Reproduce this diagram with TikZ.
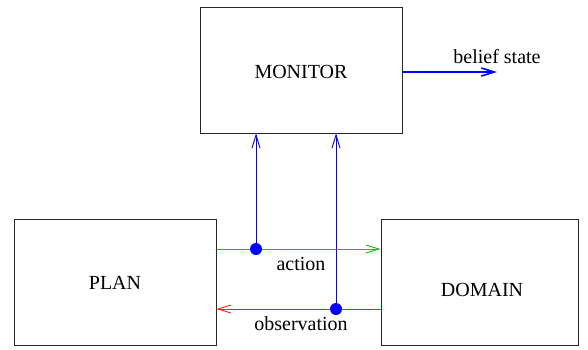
\documentclass[tikz,border=0pt]{standalone}
\usepackage{fontspec}
\setmainfont{Liberation Serif}
\usetikzlibrary{arrows.meta}
\definecolor{fgreen}{RGB}{20,190,20}
\definecolor{fred}{RGB}{255,30,30}
\definecolor{fblue}{RGB}{0,0,255}
\begin{document}
\begin{tikzpicture}[x=1pt,y=-1pt,
  font=\fontsize{20}{24}\selectfont,
  box/.style={draw=black!85,line width=1pt,minimum height=126pt,inner sep=0pt},
  dot/.style={circle,fill=fblue,minimum size=12pt,inner sep=0pt},
  tip/.style={-{Straight Barb[length=13pt,width=8pt]}},
  conn/.style={line width=0.9pt,tip}]
\useasboundingbox (0,0) rectangle (588,349);
\node[box,minimum width=202pt] (monitor) at (301,70) {};
\node at (301,72) (montext) {MONITOR};
\node[box,minimum width=202pt] (plan) at (115,282) {};
\node at (115,283) (plantext) {PLAN};
\node[box,minimum width=197pt] (domain) at (479.5,282) {};
\node at (482,290) (domtext) {DOMAIN};
\coordinate (c1) at (256,249);
\coordinate (c2) at (336,309);
\coordinate (bs) at (497,72);
\draw[conn,fgreen] (c1 -| plan.east) -- (c1 -| domain.west);
\draw[conn,fred] (c2 -| domain.west) -- (c2 -| plan.east);
\draw[conn,fblue] (c1) -- (c1 |- monitor.south);
\draw[conn,fblue] (c2) -- (c2 |- monitor.south);
\node[dot] (d1) at (c1) {};
\node[dot] (d2) at (c2) {};
\draw[tip,fblue,line width=1.6pt] (monitor.east |- bs) -- (bs);
\node (bslabel) at (497,57) {belief state};
\node (actlabel) at (301,264) {action};
\node (obslabel) at (301,324) {observation};
\end{tikzpicture}
\end{document}
